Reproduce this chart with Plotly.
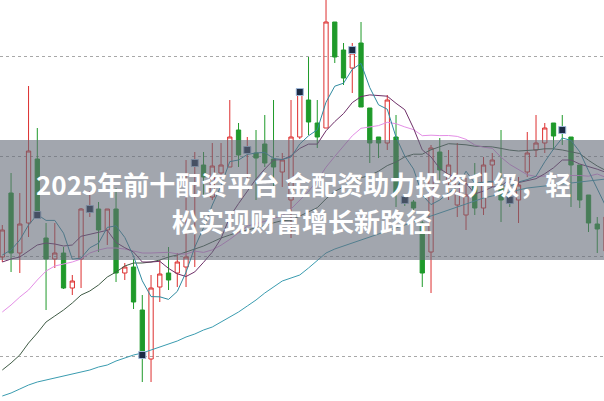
import plotly.graph_objects as go

idx = list(range(70))
open_ = [144,208,148,178,242,163,142,148,113,142,192,192,171,192,128,134,91,42,114,128,
         128,134,237,236,204,228,234,271,251,248,257,242,229,201,264,301,278,273,379,351,
         333,358,293,264,258,264,201,199,178,149,249,219,196,186,216,193,236,216,202,201,
         229,251,258,278,272,264,236,206,177,150]
high = [176,228,208,315,273,178,178,154,126,193,210,199,192,213,138,142,106,126,141,154,
        148,241,249,249,258,258,301,278,264,271,286,301,248,301,311,344,301,410,379,358,
        358,379,293,264,306,286,206,201,180,256,263,251,258,223,238,244,248,271,208,224,
        269,286,278,278,286,264,236,206,184,190]
low = [139,129,128,164,184,91,133,112,106,113,184,149,156,119,121,92,19,19,99,111,
       114,114,134,204,201,224,234,234,221,201,234,214,214,163,262,266,253,273,338,316,
       308,294,238,243,251,194,195,188,114,108,220,201,184,171,186,186,214,179,194,178,
       224,244,248,251,256,194,193,169,148,140]
close = [171,148,177,250,186,142,148,113,120,192,193,171,192,128,134,99,48,113,127,121,
         139,144,238,224,235,236,264,246,252,243,238,234,241,264,308,279,264,379,344,323,
         348,294,258,258,301,208,200,193,128,253,231,236,223,206,193,236,241,201,201,216,
         248,258,273,265,271,236,201,178,172,184]

ma5 = [146,151,161,176,186.4,180.6,180.6,167.8,141.8,143,
       153.2,157.8,173.6,175.2,163.6,144.8,120.2,104.4,104.2,101.6,
       109.6,128.8,153.8,173.2,196,215.4,239.4,241,246.5,248.1,
       248.5,242.5,241.5,244,257,265.2,271.2,298.8,314.8,317.8,
       331.6,337.6,313.4,296.2,291.8,263.8,245,232,206,196.4,
       201,208.2,214.2,229.8,217.8,218.8,219.8,215.4,214.4,219,
       221.4,224.8,239.2,252,263,260.6,249.2,230.2,211.6,194.2]
ma10 = [139,142,144,150,156,158,157,155,156,164.7,
        166.9,169.2,170.7,158.5,153.3,149,139,139,139.7,132.6,
        127.2,124.5,129.1,138.7,148.8,162.5,184.1,197.4,209.9,222,
        232,241,241.3,245.3,252.6,256.9,256.9,270.2,279.4,287.4,
        298.4,304.4,306.1,305.5,304.8,297.7,291.3,272.7,251.1,244.1,
        232.4,226.6,223.1,217.9,207.1,209.9,214,214.8,222.1,218.4,
        220.1,222.3,227.3,233.2,241,241,237,234.7,231.8,228.6]
ma20 = [89,96,104,111,121,130,135,137,139,142,
        148,151,153,153,152,150,148,148,148,148.7,
        147.1,146.9,149.9,148.6,151.1,155.8,161.6,168.2,174.8,177.3,
        179.6,182.7,185.2,192,200.7,209.7,220.5,233.8,244.6,254.7,
        265.2,272.7,273.7,275.4,278.7,277.3,274.1,271.4,265.3,265.8,
        265.4,265.5,264.6,261.7,256,253.8,252.7,243.8,236.6,231.3,
        226.3,224.5,225.2,225.6,224,225.5,225.5,224.8,227,223.5]
ma30 = [31,38,46,58,68,79,85,91,98,106,
        110,116,124,129,135,138,138,139,141,144,
        146,149,152,155,159,163,166,169,171,173.1,
        175.4,178.2,180.4,180.8,184.9,189.5,193.3,202.2,209.7,214,
        219.2,223.3,225.5,229.8,235.4,239,244.1,246.8,246.8,251.2,
        254.3,257.3,256.8,256.2,254.8,254.8,254.1,252.6,250.9,250,
        250.3,251.1,252.2,252.2,251,249.5,247.4,240.7,235,230.4]
ma60 = [5,8,12,16,19,21,23,25,27,29,
        31,34,36,40,43,46,48,51,54,57,
        60,64,67,71,74,79,84,89,95,101,
        108,114,120,123,126,133,141,148,152,155,
        158,161,164,167,170,173,176,179,182,185,
        188,191,194,197,200,203,205,207,209,211,
        213,214,215,216,217,218,219,220,221,222]

mark_idx = [4,10,16,22,28,34,40,46,58,64]
mark_val = [186,192,46,238,251,309,351,201,201,271]

title1 = "2025年前十配资平台 金配资助力投资升级，轻"
title2 = "松实现财富增长新路径"

fig = go.Figure()
fig.add_trace(go.Candlestick(
    x=idx, open=open_, high=high, low=low, close=close,
    increasing=dict(line=dict(color="#dd2f2f", width=1), fillcolor="rgba(0,0,0,0)"),
    decreasing=dict(line=dict(color="#1f9a2a", width=1), fillcolor="#1f9a2a"),
    whiskerwidth=0, showlegend=False, hoverinfo="skip"))

for vals, col in [(ma60, "#3a9cb0"), (ma30, "#3f5b45"), (ma20, "#e48ee6"),
                  (ma10, "#6e2f68"), (ma5, "#2f8aa0")]:
    fig.add_trace(go.Scatter(x=idx, y=vals, mode="lines",
                             line=dict(color=col, width=1), showlegend=False,
                             hoverinfo="skip"))

fig.add_trace(go.Scatter(x=mark_idx, y=mark_val, mode="markers",
                         marker=dict(symbol="square", size=7, color="#1b2a44",
                                     line=dict(color="#9fb8d8", width=1)),
                         showlegend=False, hoverinfo="skip"))

fig.add_shape(type="rect", xref="paper", yref="y", x0=0, x1=1, y0=141, y1=261,
              fillcolor="rgba(100,106,120,0.6)", line=dict(width=0), layer="above")

fig.add_annotation(text=title1, xref="paper", yref="y", x=0.503, y=218,
                   showarrow=False, xanchor="center", yanchor="middle",
                   font=dict(family="Noto Sans CJK SC", size=26, color="white", weight="bold"))
fig.add_annotation(text=title2, xref="paper", yref="y", x=0.5, y=181,
                   showarrow=False, xanchor="center", yanchor="middle",
                   font=dict(family="Noto Sans CJK SC", size=26, color="white", weight="bold"))

fig.update_layout(
    width=604, height=401, margin=dict(l=0, r=0, t=0, b=0),
    paper_bgcolor="white", plot_bgcolor="white",
    xaxis=dict(range=[-0.263, 68.77], visible=False, rangeslider=dict(visible=False),
               showgrid=False),
    yaxis=dict(range=[0, 401], showticklabels=False, showgrid=True,
               gridcolor="#a8a8a8", griddash="dot", gridwidth=1,
               tick0=44.5, dtick=100, zeroline=False, showline=False, ticks=""),
)
fig.write_html("out.html", config={"displayModeBar": False},
               post_script="document.body.style.margin='0';document.body.style.overflow='hidden';")
